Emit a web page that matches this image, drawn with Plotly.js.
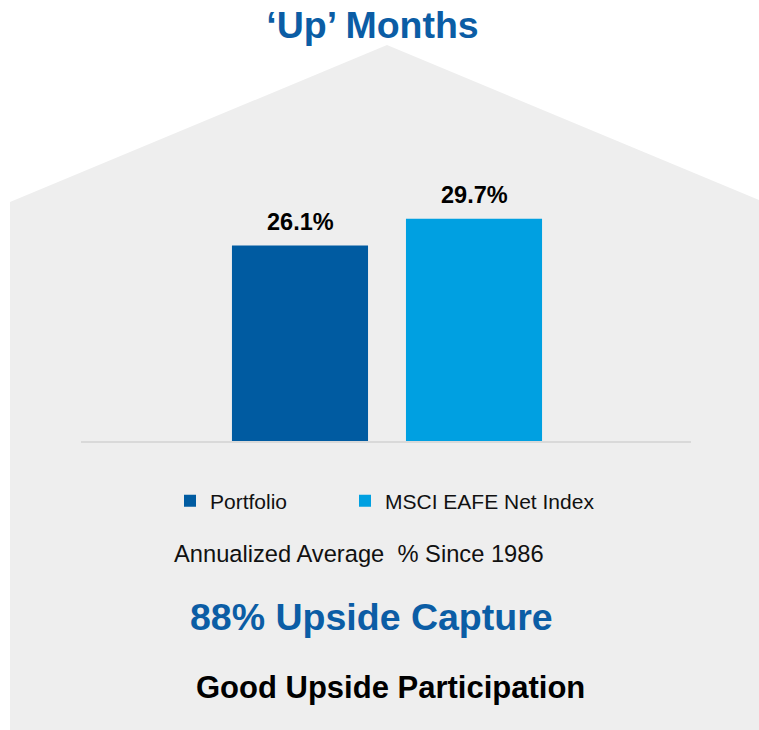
<!DOCTYPE html>
<html>
<head>
<meta charset="utf-8">
<script src="https://cdn.plot.ly/plotly-3.0.1.min.js"></script>
<style>
  html, body { margin: 0; padding: 0; background: #ffffff; }
  #chart { width: 759px; height: 730px; }
</style>
</head>
<body>
<div id="chart"></div>
<script>
// ---- data ----
const categories = ['Portfolio', 'MSCI EAFE Net Index'];
const values = [26.1, 29.7];
const valueLabels = ['26.1%', '29.7%'];
const titleText = '‘Up’ Months';
const noteText = 'Annualized Average\u00A0 % Since 1986';
const captureText = '88% Upside Capture';
const verdictText = 'Good Upside Participation';

// ---- styles ----
const barColors = ['#005BA1', '#00A0E1'];
const blue = '#0B5DA5';
const FONT = 'Liberation Sans, Arial, Helvetica, sans-serif';

const W = 759, H = 730;
const M = { l: 81, r: 68, t: 179, b: 289 };
const PW = W - M.l - M.r, PH = H - M.t - M.b;
const px = X => (X - M.l) / PW;
const py = Y => (H - M.b - Y) / PH;

const legendIds = ['legend', 'legend2'];
const legendX = [170, 345];

const traces = categories.map((c, i) => ({
  type: 'bar',
  name: c,
  x: [c],
  y: [values[i]],
  marker: { color: barColors[i] },
  legend: legendIds[i],
  hoverinfo: 'skip'
}));

// House-shaped background
const house = [[387, 45], [10, 202], [10, 740], [764, 740], [764, 202]];
const housePath = 'M ' + house.map(p => px(p[0]).toFixed(5) + ',' + py(p[1]).toFixed(5)).join(' L ') + ' Z';

const annotations = categories.map((c, i) => ({
  x: c, y: values[i], xref: 'x', yref: 'y',
  text: '<b>' + valueLabels[i] + '</b>',
  showarrow: false, yanchor: 'middle', yshift: 24,
  font: { family: FONT, size: 23.5, color: '#000000' }
})).concat([
  { xref: 'paper', yref: 'paper', x: px(358.5), y: py(554), text: noteText,
    showarrow: false, xanchor: 'center', yanchor: 'middle',
    font: { family: FONT, size: 23.7, color: '#111111' } },
  { xref: 'paper', yref: 'paper', x: px(371), y: py(617), text: '<b>' + captureText + '</b>',
    showarrow: false, xanchor: 'center', yanchor: 'middle',
    font: { family: FONT, size: 37.5, color: blue } },
  { xref: 'paper', yref: 'paper', x: px(390), y: py(687), text: '<b>' + verdictText + '</b>',
    showarrow: false, xanchor: 'center', yanchor: 'middle',
    font: { family: FONT, size: 31, color: '#000000' } }
]);

const legendBase = {
  orientation: 'h',
  xanchor: 'left',
  y: py(501), yanchor: 'middle',
  bgcolor: 'rgba(0,0,0,0)',
  font: { family: FONT, size: 21, color: '#111111' }
};

const layout = {
  width: W, height: H,
  margin: M,
  paper_bgcolor: '#ffffff',
  plot_bgcolor: 'rgba(0,0,0,0)',
  font: { family: FONT, color: '#000000' },
  title: {
    text: '<b>' + titleText + '</b>',
    font: { family: FONT, size: 37.5, color: blue },
    xref: 'container', yref: 'container',
    x: 372.5 / W, xanchor: 'center',
    y: 1 - 25 / H, yanchor: 'middle'
  },
  barmode: 'overlay',
  bargap: 0.218,
  xaxis: {
    type: 'category',
    range: [-1.2586, 2.2471],
    showline: true, linecolor: '#d9d9d9', linewidth: 2,
    showticklabels: false, ticks: '', showgrid: false, zeroline: false,
    fixedrange: true
  },
  yaxis: {
    range: [0, 35],
    visible: false, fixedrange: true
  },
  showlegend: true,
  legend: Object.assign({}, legendBase, { x: px(legendX[0]) }),
  legend2: Object.assign({}, legendBase, { x: px(legendX[1]) }),
  shapes: [{
    type: 'path', xref: 'paper', yref: 'paper', layer: 'below',
    path: housePath, fillcolor: '#eeeeee', line: { width: 0 }
  }],
  annotations: annotations
};

Plotly.newPlot('chart', traces, layout, { displayModeBar: false, staticPlot: true });
</script>
</body>
</html>
